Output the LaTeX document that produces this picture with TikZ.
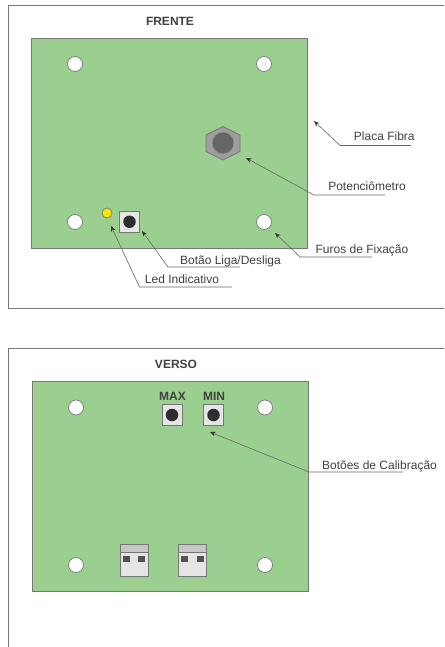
\documentclass[tikz,border=0pt]{standalone}
\usepackage{fontspec}
\setmainfont{Liberation Sans}
\usetikzlibrary{arrows.meta,shapes.geometric}
\definecolor{pcb}{HTML}{9BCF8F}
\definecolor{txt}{HTML}{404040}
\definecolor{edge}{HTML}{777777}
\definecolor{lead}{HTML}{666666}
\definecolor{ledc}{HTML}{FFE600}
\tikzset{
  x=1pt,y=-1pt,
  every node/.style={inner sep=0pt,outer sep=0pt,text=txt},
  frameline/.style={draw=edge,line width=0.8pt},
  board/.style={rectangle,draw=edge,line width=0.8pt,fill=pcb,minimum width=276.5pt,minimum height=210pt},
  hole/.style={circle,draw=edge,line width=0.7pt,fill=white,minimum size=15pt},
  led/.style={circle,draw=edge,line width=0.7pt,fill=ledc,minimum size=10pt},
  btnbox/.style={rectangle,draw=edge,line width=0.9pt,fill=black!10,minimum width=20pt,minimum height=20.5pt},
  btncap/.style={circle,fill=black!82,minimum size=12.5pt},
  nut/.style={draw=edge,line width=0.7pt,fill=black!38},
  knob/.style={circle,draw=black!42,line width=0.7pt,fill=black!60,minimum size=22pt},
  plug/.style={rectangle,draw=edge,line width=0.9pt,fill=black!10,minimum width=28pt,minimum height=32.5pt},
  plugband/.style={rectangle,draw=edge,line width=0.7pt,fill=black!22,minimum width=28pt,minimum height=7.5pt},
  pin/.style={rectangle,fill=black!68,minimum width=7pt,minimum height=6pt},
  title/.style={font=\fontsize{12}{14}\selectfont\bfseries},
  lbl/.style={font=\fontsize{12}{14}\selectfont},
  leader/.style={draw=lead,line width=0.6pt,-{Stealth[length=5.5pt,width=4.5pt,color=black!80]}}
}
\begin{document}
\begin{tikzpicture}
\useasboundingbox[fill=white] (0,0) rectangle (444,647);
% frames
\coordinate (f1a) at (444,5); \coordinate (f1b) at (8,5);
\coordinate (f1c) at (8,308); \coordinate (f1d) at (444,308);
\draw[frameline] (f1a) -- (f1b) -- (f1c) -- (f1d);
\coordinate (f2a) at (444,348.5); \coordinate (f2b) at (8,348.5);
\coordinate (f2c) at (8,647);
\draw[frameline] (f2a) -- (f2b) -- (f2c);
% FRENTE
\node[title] (tfrente) at (170,21.3) {FRENTE};
\node[board] (placa1) at (169.25,143) {};
\node[hole] (h1) at (75,64) {};
\node[hole] (h2) at (264,64) {};
\node[hole] (h3) at (75,222) {};
\node[hole] (h4) at (264,222) {};
\draw[nut] (223,126.5) -- (240,135) -- (240,151.5) -- (223,160) -- (206,151.5) -- (206,135) -- cycle;
\node[knob] (pot) at (223,143) {};
\node[led] (ledy) at (107,213) {};
\node[btnbox] (btn) at (129.5,221.75) {};
\node[btncap] (btnc) at (129.5,221.75) {};
% FRENTE labels
\node[lbl] (lplaca) at (384.3,136.5) {Placa Fibra};
\node[lbl] (lpot) at (367,186.5) {Potenciômetro};
\node[lbl] (lfuros) at (362,250) {Furos de Fixação};
\node[lbl] (lbotao) at (230.5,261) {Botão Liga/Desliga};
\node[lbl] (lled) at (182,279.5) {Led Indicativo};
% FRENTE leaders
\coordinate (e1s) at (411,145.5); \coordinate (e1m) at (340,145.5); \coordinate (e1t) at (314,121);
\coordinate (e2s) at (385,195); \coordinate (e2m) at (314,195); \coordinate (e2t) at (246,158);
\coordinate (e3s) at (372,257); \coordinate (e3m) at (300,257); \coordinate (e3t) at (275,233);
\coordinate (e4s) at (240,267); \coordinate (e4m) at (168,267); \coordinate (e4t) at (142,231);
\coordinate (e5s) at (232,287); \coordinate (e5m) at (139.5,287); \coordinate (e5t) at (111,226);
\draw[leader] (e1s) -- (e1m) -- (e1t);
\draw[leader] (e2s) -- (e2m) -- (e2t);
\draw[leader] (e3s) -- (e3m) -- (e3t);
\draw[leader] (e4s) -- (e4m) -- (e4t);
\draw[leader] (e5s) -- (e5m) -- (e5t);
% VERSO
\node[title] (tverso) at (176,364) {VERSO};
\node[board] (placa2) at (170.5,486) {};
\node[hole] (h5) at (76,407.5) {};
\node[hole] (h6) at (265,407.5) {};
\node[hole] (h7) at (76,565) {};
\node[hole] (h8) at (265,565) {};
\node[title] (tmax) at (172.5,396.5) {MAX};
\node[title] (tmin) at (214,396.5) {MIN};
\node[btnbox] (bmax) at (172,415) {};
\node[btncap] (cmax) at (172,415) {};
\node[btnbox] (bmin) at (213.5,415) {};
\node[btncap] (cmin) at (213.5,415) {};
\node[plug] (p1) at (134.4,560.5) {};
\node[plugband] (p1b) at (134.4,548.1) {};
\node[pin] (p1x) at (126.5,558.7) {};
\node[pin] (p1y) at (141.8,558.7) {};
\node[plug] (p2) at (192.5,560.5) {};
\node[plugband] (p2b) at (192.5,548.1) {};
\node[pin] (p2x) at (184.6,558.7) {};
\node[pin] (p2y) at (200,558.7) {};
% VERSO label and leader
\node[lbl] (lcal) at (379.5,466) {Botões de Calibração};
\coordinate (e6s) at (403,472); \coordinate (e6m) at (309,472); \coordinate (e6t) at (210,432);
\draw[leader] (e6s) -- (e6m) -- (e6t);
\end{tikzpicture}
\end{document}
